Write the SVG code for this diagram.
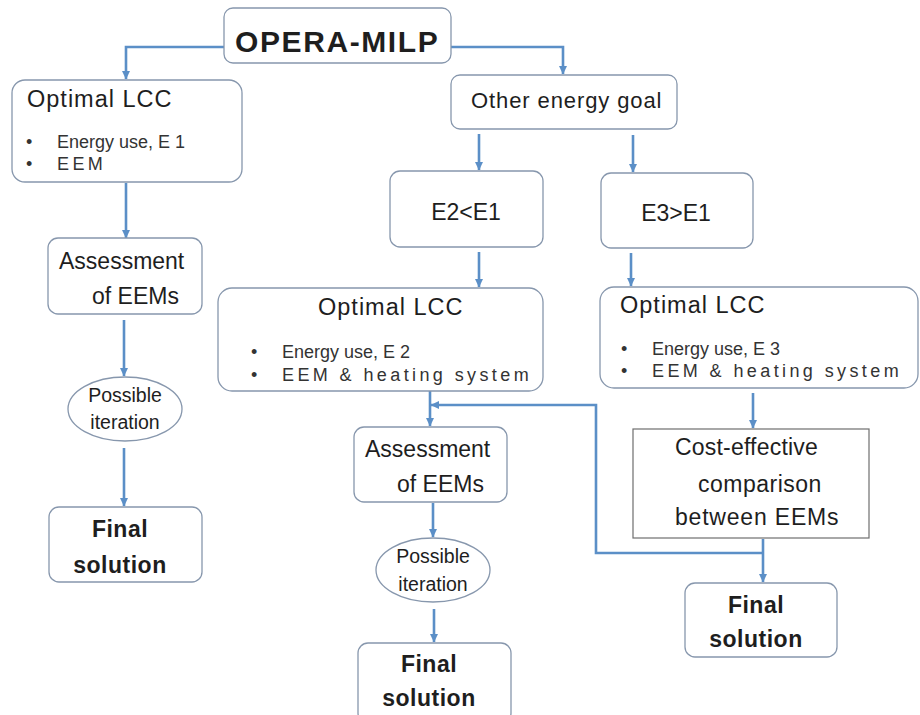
<svg xmlns="http://www.w3.org/2000/svg" width="920" height="715" viewBox="0 0 920 715">
<defs>
<style>
.box{fill:#fff;stroke:#8797ad;stroke-width:1.3}
.sq{fill:#fff;stroke:#6e6e6e;stroke-width:1.2}
.c{fill:none;stroke:#5b8fc7;stroke-width:2.6;marker-end:url(#ah)}
text{font-family:"Liberation Sans",Arial,sans-serif;fill:#1e1e1e}
.t23{font-size:23px}
.t22{font-size:22px;letter-spacing:0.9px}
.te{font-size:23px}
.t18{font-size:19.5px}
.lcc{font-size:23.5px;letter-spacing:1px}
.bul{font-size:18px;fill:#333}
.sp{letter-spacing:3.4px}
.fin{font-size:23px;font-weight:bold;text-anchor:middle;letter-spacing:0.5px}
.mid{text-anchor:middle}
</style>
<marker id="ah" markerUnits="userSpaceOnUse" markerWidth="9" markerHeight="9" refX="8" refY="4.5" orient="auto">
<path d="M0,0.5 L8.5,4.5 L0,8.5 z" fill="#5b8fc7"/>
</marker>
</defs>
<rect width="920" height="715" fill="#fff"/>

<g id="connectors">
<path class="c" d="M224,47 H126 V79"/>
<path class="c" d="M451,47 H563 V74"/>
<path class="c" d="M126,183 V238"/>
<path class="c" d="M124,320 V376"/>
<path class="c" d="M124,448 V506"/>
<path class="c" d="M479,134 V170"/>
<path class="c" d="M633,135 V172"/>
<path class="c" d="M479,252 V287"/>
<path class="c" d="M631,253 V286"/>
<path class="c" d="M430,391 V426"/>
<path class="c" d="M753,393 V428"/>
<path class="c" d="M763,539 V582"/>
<path class="c" d="M763,553 H596 V405 H431"/>
<path class="c" d="M433,503 V537"/>
<path class="c" d="M434,609 V642"/>
</g>

<g id="opera">
<rect class="box" x="224" y="8" width="227" height="55" rx="9"/>
<text x="235" y="52" style="font-size:30px;font-weight:bold;letter-spacing:1.6px" fill="#000">OPERA-MILP</text>
</g>

<g id="lcc1">
<rect class="box" x="12" y="80" width="230" height="102" rx="13"/>
<text class="lcc" x="27" y="107">Optimal LCC</text>
<text class="bul" x="26" y="148">•</text>
<text class="bul" x="57" y="148">Energy use, E 1</text>
<text class="bul" x="26" y="170">•</text>
<text class="bul sp" x="57" y="170">EEM</text>
</g>

<g id="assess1">
<rect class="box" x="48" y="238" width="154" height="76" rx="10"/>
<text class="t23" x="59" y="269">Assessment</text>
<text class="t23" x="92" y="304">of EEMs</text>
</g>

<g id="iter1">
<ellipse class="box" cx="125" cy="409" rx="57" ry="32"/>
<text class="t18 mid" x="125" y="402">Possible</text>
<text class="t18 mid" x="125" y="429">iteration</text>
</g>

<g id="final1">
<rect class="box" x="49" y="507" width="153" height="75" rx="10"/>
<text class="fin" x="120" y="537">Final</text>
<text class="fin" x="120" y="573">solution</text>
</g>

<g id="other">
<rect class="box" x="451" y="75" width="226" height="54" rx="9"/>
<text class="t22" x="471" y="108">Other energy goal</text>
</g>

<g id="e2">
<rect class="box" x="390" y="171" width="153" height="76" rx="10"/>
<text class="te mid" x="466" y="220">E2&lt;E1</text>
</g>

<g id="e3">
<rect class="box" x="601" y="173" width="152" height="75" rx="10"/>
<text class="te mid" x="676" y="221">E3&gt;E1</text>
</g>

<g id="lcc2">
<rect class="box" x="218" y="288" width="325" height="103" rx="14"/>
<text class="lcc" x="318" y="315">Optimal LCC</text>
<text class="bul" x="251" y="358">•</text>
<text class="bul" x="282" y="358">Energy use, E 2</text>
<text class="bul" x="251" y="381">•</text>
<text class="bul sp" x="282" y="381">EEM &amp; heating system</text>
</g>

<g id="lcc3">
<rect class="box" x="600" y="287" width="318" height="101" rx="14"/>
<text class="lcc" x="620" y="313">Optimal LCC</text>
<text class="bul" x="621" y="355">•</text>
<text class="bul" x="652" y="355">Energy use, E 3</text>
<text class="bul" x="621" y="377">•</text>
<text class="bul sp" x="652" y="377">EEM &amp; heating system</text>
</g>

<g id="assess2">
<rect class="box" x="354" y="427" width="153" height="75" rx="10"/>
<text class="t23" x="365" y="457">Assessment</text>
<text class="t23" x="397" y="492">of EEMs</text>
</g>

<g id="cost">
<rect class="sq" x="633" y="429" width="236" height="109"/>
<text class="t23" x="675" y="455" style="letter-spacing:0.2px">Cost-effective</text>
<text class="t23" x="698" y="492" style="letter-spacing:0.5px">comparison</text>
<text class="t23" x="675" y="525" style="letter-spacing:0.8px">between EEMs</text>
</g>

<g id="iter2">
<ellipse class="box" cx="433" cy="570" rx="57" ry="32"/>
<text class="t18 mid" x="433" y="563">Possible</text>
<text class="t18 mid" x="433" y="591">iteration</text>
</g>

<g id="final2">
<rect class="box" x="358" y="643" width="153" height="80" rx="10"/>
<text class="fin" x="429" y="672">Final</text>
<text class="fin" x="429" y="706">solution</text>
</g>

<g id="final3">
<rect class="box" x="685" y="583" width="152" height="74" rx="10"/>
<text class="fin" x="756" y="613">Final</text>
<text class="fin" x="756" y="647">solution</text>
</g>
</svg>
